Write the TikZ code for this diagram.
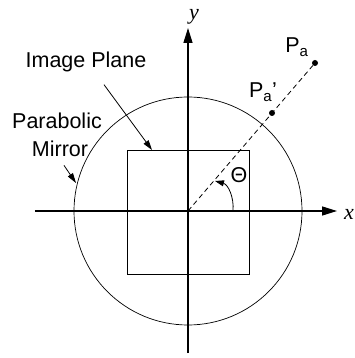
\documentclass[tikz,border=0pt]{standalone}
\usepackage{fontspec}
\setmainfont{Liberation Sans}
\newfontfamily\axisfont{Liberation Serif}
\usetikzlibrary{arrows.meta,positioning}

\tikzset{
    axisline/.style={line width=1.4pt, -{Triangle[length=15pt,width=9pt]}},
    pointer/.style={line width=0.8pt, -{Triangle[length=10pt,width=6pt]}},
    dot/.style={circle, fill=black, inner sep=0pt, minimum size=6pt},
    label/.style={inner sep=0pt, anchor=base},
}

\begin{document}
\begin{tikzpicture}[x=1pt, y=1pt, font=\fontsize{21.5}{24}\selectfont]

    % Frame
    \useasboundingbox (-188,-147) rectangle (166,211);

    % =====================================================
    % AXES
    % =====================================================
    \coordinate (O) at (0,0);
    \coordinate (xstart) at (-153,0);
    \coordinate (xend) at (149,0);
    \coordinate (ystart) at (0,-142);
    \coordinate (yend) at (0,183);
    \draw[axisline] (xstart) -- (xend);
    \draw[axisline] (ystart) -- (yend);
    \node[font=\axisfont\itshape\fontsize{22}{24}\selectfont, inner sep=0pt] (xlabel) at (161,-3) {x};
    \node[font=\axisfont\itshape\fontsize{22}{24}\selectfont, inner sep=0pt] (ylabel) at (6,194) {y};

    % Mirror (circle) and image plane (square)
    \draw[line width=0.7pt] (O) circle (114);
    \draw[line width=1pt] (-61,-63) rectangle (61,60);

    % =====================================================
    % POINTS
    % =====================================================
    \node[dot] (Pa) at (127,148) {};
    \node[dot] (Pap) at (84,98) {};
    \draw[line width=0.8pt, dash pattern=on 5pt off 3.5pt] (O) -- (Pa);
    \node[label] (PaText) at (109,158) {P\textsubscript{a}};
    \node[label] (PapText) at (75,113) {P\textsubscript{a}'};

    % Angle
    \coordinate (arcstart) at (45,0);
    \coordinate (arcend) at (27,30);
    \draw[line width=0.8pt, -{Triangle[length=9pt,width=6pt]}] (arcstart) to[out=85, in=-15] (arcend);
    \node[label] (theta) at (51,28) {Θ};

    % =====================================================
    % LABELS
    % =====================================================
    \node[label] (imgplane) at (-102,143) {Image Plane};
    \node[label] (parabolic) at (-131,82) {Parabolic};
    \node[label] (mirror) at (-128,54) {Mirror};

    \coordinate (planeTip) at (-36,61);
    \coordinate (mirrorTip) at (-112,28);
    \draw[pointer] (imgplane.south) ++(18,-12) -- (planeTip);
    \draw[pointer] (mirror.south) ++(4,-8) -- (mirrorTip);

\end{tikzpicture}
\end{document}
